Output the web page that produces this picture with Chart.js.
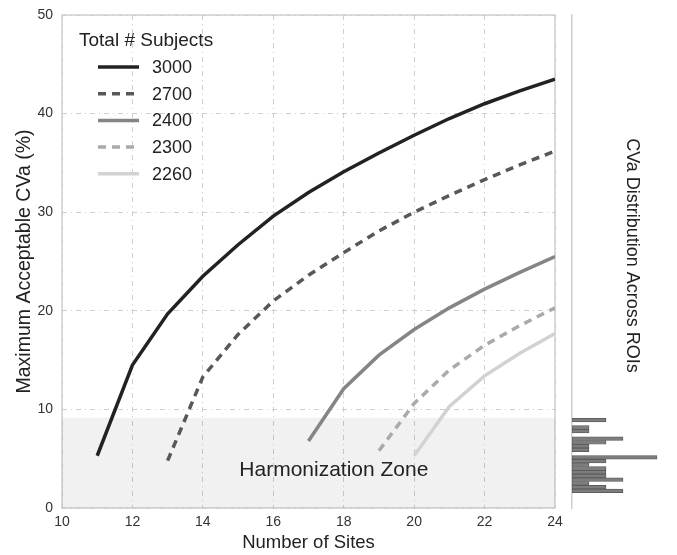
<!DOCTYPE html>
<html>
<head>
<meta charset="utf-8">
<script src="https://cdn.jsdelivr.net/npm/chart.js@4.4.1/dist/chart.umd.min.js"></script>
<style>
  body { margin: 0; background: #fff; }
  #wrap { position: relative; width: 677px; height: 555px; }
  #main { position: absolute; left: 0; top: 0; }
  #hist { position: absolute; left: 560px; top: 0; }
</style>
</head>
<body>
<div id="wrap">
  <canvas id="main" width="580" height="555"></canvas>
  <canvas id="hist" width="117" height="555"></canvas>
</div>
<script>
// dati: CVa massimo accettabile per numero di siti
const sites3000 = [11, 12, 13, 14, 15, 16, 17, 18, 19, 20, 21, 22, 23, 24];
const cva3000 = [5.3, 14.5, 19.7, 23.5, 26.7, 29.6, 32.0, 34.1, 36.0, 37.8, 39.5, 41.0, 42.3, 43.5];
const sites2700 = [13, 14, 15, 16, 17, 18, 19, 20, 21, 22, 23, 24];
const cva2700 = [4.8, 13.3, 17.6, 21.0, 23.6, 25.9, 28.1, 30.0, 31.7, 33.3, 34.8, 36.2];
const sites2400 = [17, 18, 19, 20, 21, 22, 23, 24];
const cva2400 = [6.8, 12.1, 15.5, 18.1, 20.3, 22.2, 23.9, 25.5];
const sites2300 = [19, 20, 21, 22, 23, 24];
const cva2300 = [5.8, 10.6, 14.0, 16.5, 18.5, 20.3];
const sites2260 = [20, 21, 22, 23, 24];
const cva2260 = [5.3, 10.3, 13.4, 15.7, 17.7];

const seriesLabels = ['3000', '2700', '2400', '2300', '2260'];
const zoneLimit = 9.15;
const zoneSites = [10, 24];

// istogramma CVa sulle ROI (centri dei bin e conteggi)
const binCenters = [1.74, 2.12, 2.50, 2.87, 3.25, 3.63, 4.01, 4.39, 4.76, 5.14,
                    5.52, 5.90, 6.28, 6.65, 7.03, 7.41, 7.79, 8.17, 8.54, 8.92];
const binCounts = [3, 2, 1, 3, 2, 2, 2, 1, 2, 5, 0, 1, 1, 2, 3, 0, 1, 1, 0, 2];

const xTicks = [10, 12, 14, 16, 18, 20, 22, 24];
const yTicks = [0, 10, 20, 30, 40, 50];

const FONT = "'Liberation Sans', Arial, sans-serif";

function punti(xs, ys) {
    return xs.map((x, i) => ({ x: x, y: ys[i] }));
}

// legenda disegnata dentro l'area del grafico
const legendaInterna = {
    id: 'legendaInterna',
    afterDraw(chart) {
        const ctx = chart.ctx;
        const area = chart.chartArea;
        ctx.save();
        ctx.fillStyle = '#222';
        ctx.textBaseline = 'middle';
        ctx.textAlign = 'left';
        ctx.font = '19px ' + FONT;
        ctx.fillText('Total # Subjects', area.left + 17, 41);
        ctx.font = '18px ' + FONT;
        seriesLabels.forEach((lab, i) => {
            const ds = chart.data.datasets[i];
            const y = 67 + i * 26.7;
            ctx.beginPath();
            ctx.strokeStyle = ds.borderColor;
            ctx.lineWidth = ds.borderWidth;
            ctx.setLineDash(ds.borderDash || []);
            ctx.moveTo(area.left + 36, y);
            ctx.lineTo(area.left + 77, y);
            ctx.stroke();
            ctx.setLineDash([]);
            ctx.fillText(lab, area.left + 90, y + 1);
        });
        ctx.restore();
    }
};

// bordo attorno all'area e scritta della zona
const cornice = {
    id: 'cornice',
    beforeDatasetsDraw(chart) {
        const ctx = chart.ctx;
        const a = chart.chartArea;
        ctx.save();
        ctx.strokeStyle = '#cfcfcf';
        ctx.lineWidth = 1.5;
        ctx.strokeRect(a.left, a.top, a.right - a.left, a.bottom - a.top);
        ctx.restore();
    },
    afterDatasetsDraw(chart) {
        const ctx = chart.ctx;
        const xs = chart.scales.x, ys = chart.scales.y;
        ctx.save();
        ctx.fillStyle = '#222';
        ctx.font = '21px ' + FONT;
        ctx.textAlign = 'center';
        ctx.textBaseline = 'middle';
        ctx.fillText('Harmonization Zone', xs.getPixelForValue(17.72), ys.getPixelForValue(3.85));
        ctx.restore();
    }
};

const stileLinea = (colore, dash) => ({
    borderColor: colore,
    backgroundColor: colore,
    borderWidth: 3.5,
    borderDash: dash,
    pointRadius: 0,
    fill: false,
    tension: 0,
    clip: 0
});

new Chart(document.getElementById('main'), {
    type: 'line',
    data: {
        datasets: [
            Object.assign({ label: '3000', data: punti(sites3000, cva3000) }, stileLinea('#222222', [])),
            Object.assign({ label: '2700', data: punti(sites2700, cva2700) }, stileLinea('#585858', [8, 6])),
            Object.assign({ label: '2400', data: punti(sites2400, cva2400) }, stileLinea('#858585', [])),
            Object.assign({ label: '2300', data: punti(sites2300, cva2300) }, stileLinea('#aaaaaa', [8, 6])),
            Object.assign({ label: '2260', data: punti(sites2260, cva2260) }, stileLinea('#d2d2d2', [])),
            {
                label: 'zona',
                data: punti(zoneSites, [zoneLimit, zoneLimit]),
                borderWidth: 0,
                pointRadius: 0,
                backgroundColor: 'rgba(0,0,0,0.055)',
                fill: 'origin'
            }
        ]
    },
    options: {
        responsive: false,
        animation: false,
        layout: { padding: { top: 15, right: 25, left: 0, bottom: 0 } },
        plugins: { legend: { display: false }, tooltip: { enabled: false } },
        scales: {
            x: {
                type: 'linear', min: 10, max: 24,
                afterBuildTicks: s => { s.ticks = xTicks.map(v => ({ value: v })); },
                afterFit: s => { s.height = 47; s.paddingLeft = 0; s.paddingRight = 0; },
                ticks: { color: '#333', font: { family: FONT, size: 14 }, padding: 6 },
                grid: { color: '#cfcfcf', lineWidth: 1, drawTicks: false },
                border: { display: false, dash: [5, 4, 1, 4] },
                title: { display: true, text: 'Number of Sites', color: '#222', font: { family: FONT, size: 18.5 }, padding: { top: 0, bottom: 1 } }
            },
            y: {
                type: 'linear', min: 0, max: 50,
                afterBuildTicks: s => { s.ticks = yTicks.map(v => ({ value: v })); },
                afterFit: s => { s.width = 62; s.paddingTop = 0; s.paddingBottom = 0; },
                ticks: { color: '#333', font: { family: FONT, size: 14 }, padding: 9 },
                grid: { color: '#cfcfcf', lineWidth: 1, drawTicks: false },
                border: { display: false, dash: [5, 4, 1, 4] },
                title: { display: true, text: 'Maximum Acceptable CVa (%)', color: '#222', font: { family: FONT, size: 19.5 }, padding: { top: 13, bottom: 0 } }
            }
        }
    },
    plugins: [cornice, legendaInterna]
});

// etichetta verticale a destra dell'istogramma
const etichettaDestra = {
    id: 'etichettaDestra',
    afterDraw(chart) {
        const ctx = chart.ctx;
        const ys = chart.scales.y;
        ctx.save();
        ctx.translate(72, (ys.top + ys.bottom) / 2 - 6);
        ctx.rotate(Math.PI / 2);
        ctx.fillStyle = '#222';
        ctx.font = '18px ' + FONT;
        ctx.textAlign = 'center';
        ctx.textBaseline = 'middle';
        ctx.fillText('CVa Distribution Across ROIs', 0, 0);
        ctx.restore();
    }
};

new Chart(document.getElementById('hist'), {
    type: 'bar',
    data: {
        datasets: [{
            label: 'ROI',
            data: binCenters.map((c, i) => ({ y: c, x: binCounts[i] })),
            backgroundColor: '#7d7d7d',
            borderColor: '#555',
            borderWidth: 0.8,
            borderSkipped: false,
            barPercentage: 1,
            categoryPercentage: 1
        }]
    },
    options: {
        indexAxis: 'y',
        responsive: false,
        animation: false,
        layout: { padding: { top: 15, right: 3, left: 12, bottom: 47 } },
        plugins: { legend: { display: false }, tooltip: { enabled: false } },
        scales: {
            x: { type: 'linear', min: 0, max: 6, display: false },
            y: {
                type: 'linear', min: 0, max: 50, offset: false,
                afterFit: s => { s.width = 0; s.paddingTop = 0; s.paddingBottom = 0; },
                ticks: { display: false },
                grid: { display: false },
                border: { display: true, color: '#cfcfcf', width: 1.5 }
            }
        }
    },
    plugins: [etichettaDestra]
});
</script>
</body>
</html>
